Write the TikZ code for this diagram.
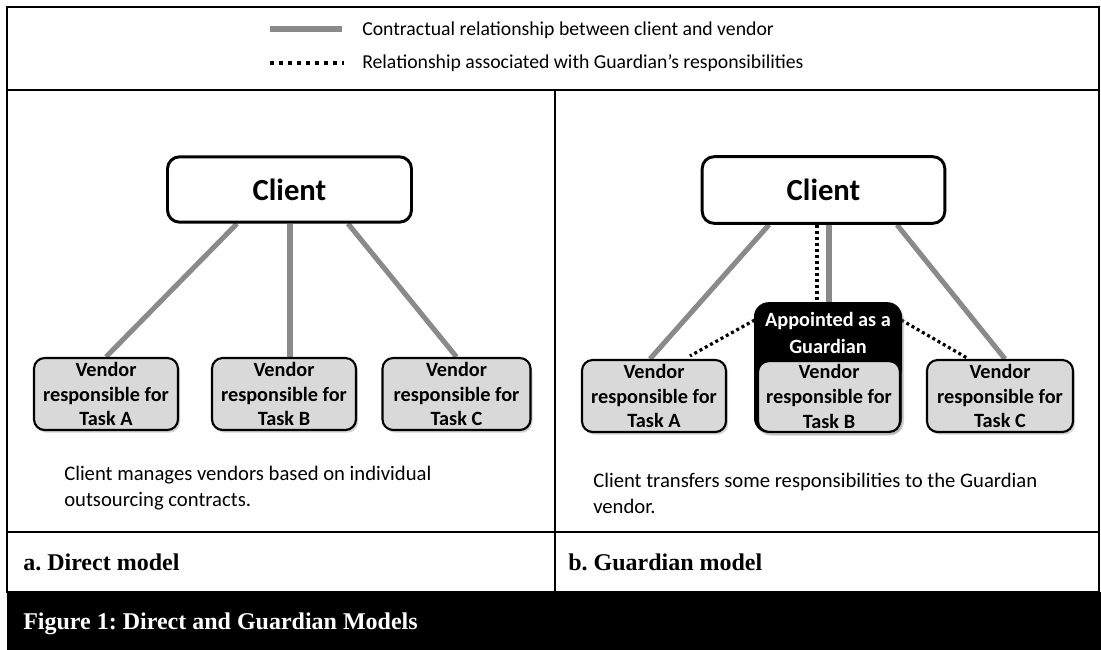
\documentclass[tikz,border=0pt]{standalone}
\usepackage{fontspec}
\setmainfont{Carlito}
\newfontfamily\timesf{Liberation Serif}
\usetikzlibrary{calc,shadows,backgrounds}
\definecolor{relgray}{HTML}{8A8A8A}
\definecolor{boxgray}{HTML}{D9D9D9}
\begin{document}
\frenchspacing
\begin{tikzpicture}[x=0.75pt,y=-0.75pt,
  frame/.style={line width=2.2pt,black},
  clientbox/.style={draw,line width=2.2pt,rounded corners=9pt,fill=white,
    minimum width=183pt,minimum height=49pt,inner sep=0pt,
    font=\fontsize{23}{26}\selectfont\bfseries},
  vendorbox/.style={draw,line width=1.6pt,rounded corners=8pt,fill=boxgray,
    minimum width=108pt,minimum height=54pt,inner sep=0pt,align=center,
    font=\fontsize{15.2}{18.6}\selectfont\bfseries,
    drop shadow={shadow xshift=1.5pt,shadow yshift=-2pt,opacity=0.35}},
  guardbox/.style={fill=black,rounded corners=11pt,minimum width=111pt,
    minimum height=98pt,inner sep=0pt,
    drop shadow={shadow xshift=1.5pt,shadow yshift=-2pt,opacity=0.35}},
  contract/.style={line width=3.8pt,relgray},
  guardrel/.style={line width=2.4pt,black,dash pattern=on 2.25pt off 2.25pt},
  legenddots/.style={line width=3pt,black,dash pattern=on 3pt off 3.75pt},
  bodytext/.style={anchor=base west,inner sep=0pt,align=left,
    font=\fontsize{15.5}{19.5}\selectfont},
  legendtext/.style={anchor=west,inner sep=0pt,font=\fontsize{14.8}{16}\selectfont},
  captext/.style={anchor=west,inner sep=0pt,font=\timesf\fontsize{18}{20}\selectfont\bfseries}
]
\useasboundingbox (0,0) rectangle (1101,650);

% frame
\draw[frame] (7,7) rectangle (1099,592);
\draw[frame] (7,90) -- (1099,90);
\draw[frame] (7,532) -- (1099,532);
\draw[frame] (555,90) -- (555,592);
\fill[black] (7,592) rectangle (1101,650);

% legend
\coordinate (lg1a) at (270,29);
\coordinate (lg1b) at (342,29);
\coordinate (lg2a) at (270,63);
\coordinate (lg2b) at (344,63);
\draw[contract,line width=4pt] (lg1a) -- (lg1b);
\draw[legenddots] (lg2a) -- (lg2b);
\node[legendtext] (lt1) at (362,30) {Contractual relationship between client and vendor};
\node[legendtext] (lt2) at (362,63) {Relationship associated with Guardian’s responsibilities};

% left panel
\node[clientbox] (clientL) at (289.5,189.5) {Client};
\node[vendorbox] (vA) at (106,394) {Vendor\\responsible for\\Task A};
\node[vendorbox] (vB) at (284,394) {Vendor\\responsible for\\Task B};
\node[vendorbox,minimum width=111pt] (vC) at (456.5,394) {Vendor\\responsible for\\Task C};
\begin{pgfonlayer}{background}
\draw[contract] ($(clientL.south)+(-52.5,0)$) -- (vA.north);
\draw[contract] ($(clientL.south)+(0.5,0)$) -- ($(vB.north)+(6,0)$);
\draw[contract] ($(clientL.south)+(58.5,0)$) -- (vC.north);
\end{pgfonlayer}
\node[bodytext] (tL) at (64,506) {Client manages vendors based on individual\\outsourcing contracts.};
\node[captext] (capA) at (23,562) {a. Direct model};

% right panel
\node[clientbox,minimum width=182pt,minimum height=50pt] (clientR) at (823.5,190) {Client};
\node[vendorbox] (wA) at (654,396) {Vendor\\responsible for\\Task A};
\node[guardbox] (guard) at (828,367.5) {};
\node[anchor=center,inner sep=0pt,text=white,font=\fontsize{15.2}{20}\selectfont\bfseries,align=center] (gtext) at (828,333) {Appointed as a\\Guardian};
\node[vendorbox,minimum width=106.5pt,minimum height=53pt,drop shadow={opacity=0}] (wB) at (829,396.5) {Vendor\\responsible for\\Task B};
\node[vendorbox,minimum width=109.5pt] (wC) at (1000,396) {Vendor\\responsible for\\Task C};
\begin{pgfonlayer}{background}
\draw[contract] ($(clientR.south)+(-54.5,0)$) -- ($(wA.north)+(-4,0)$);
\draw[contract] ($(clientR.south)+(5.5,0)$) -- ($(guard.north)+(1,0)$);
\draw[contract] ($(clientR.south)+(73.5,0)$) -- ($(wC.north)+(5,0)$);
\draw[guardrel] ($(clientR.south)+(-6.5,0)$) -- ($(guard.north)+(-11,0)$);
\draw[guardrel] ($(guard.west)+(1,-47.5)$) -- ($(wA.north)+(36,-3)$);
\draw[guardrel] ($(guard.east)+(-1,-47.5)$) -- ($(wC.north)+(-33,-1)$);
\end{pgfonlayer}
\node[bodytext] (tR) at (593,513) {Client transfers some responsibilities to the Guardian\\vendor.};
\node[captext] (capB) at (568,562) {b. Guardian model};

% caption
\node[captext,text=white] (fig) at (23,624) {Figure 1: Direct and Guardian Models};
\end{tikzpicture}
\end{document}
